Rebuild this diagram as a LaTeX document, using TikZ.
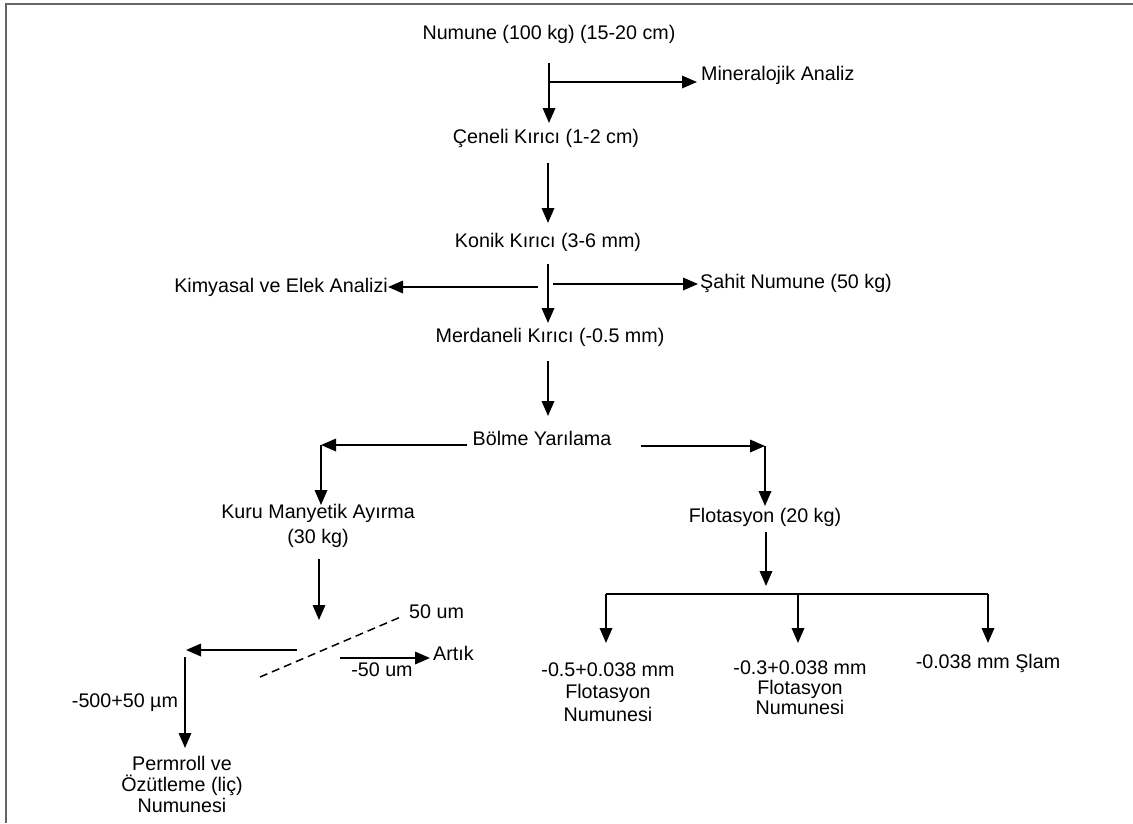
\documentclass[tikz,border=0pt]{standalone}
\usepackage{fontspec}
\setmainfont{Liberation Sans}
\usetikzlibrary{arrows.meta}
\newcommand{\lblfont}{\fontsize{19.7}{22}\selectfont}
\tikzset{
  lbl/.style={inner sep=0pt, font=\lblfont, align=center},
  arr/.style={-{Triangle[length=15pt,width=12.5pt]}, line width=1.8pt},
  ln/.style={line width=1.8pt},
  dsh/.style={line width=1.5pt, dash pattern=on 8pt off 5pt},
  frame/.style={line width=2pt, draw=black!60}
}
\begin{document}
\begin{tikzpicture}[x=1pt,y=-1pt]
\useasboundingbox (0,0) rectangle (1133,823);
\draw[frame] (1133,4) -- (6,4) -- (6,823);

% nodes
\node[lbl] (n0) at (549,34) {Numune (100 kg) (15-20 cm)};
\node[lbl,anchor=west] (mineral) at (701,75) {Mineralojik Analiz};
\node[lbl] (n1) at (546,138) {Çeneli Kırıcı (1-2 cm)};
\node[lbl] (n2) at (548,242) {Konik Kırıcı (3-6 mm)};
\node[lbl,anchor=east] (kim) at (388,287) {Kimyasal ve Elek Analizi};
\node[lbl,anchor=west] (sahit) at (700,283) {Şahit Numune (50 kg)};
\node[lbl] (n3) at (550,337) {Merdaneli Kırıcı (-0.5 mm)};
\node[lbl] (bol) at (542,438) {Bölme Yarılama};
\node[lbl,font=\fontsize{19.7}{25}\selectfont] (kuru) at (318,526) {Kuru Manyetik Ayırma\\(30 kg)};
\node[lbl] (flot) at (765,517) {Flotasyon (20 kg)};
\node[lbl,anchor=west] (fifty) at (409,612) {50 um};
\node[lbl,anchor=west] (artik) at (433,653) {Artık};
\node[lbl] (m50) at (382,670) {-50 um};
\node[lbl] (m500) at (125,703) {-500+50 µm};
\node[lbl,font=\fontsize{19.7}{21}\selectfont] (perm) at (182,784) {Permroll ve\\Özütleme (liç)\\Numunesi};
\node[lbl,font=\fontsize{19.7}{22.5}\selectfont] (c1) at (608,692) {-0.5+0.038 mm\\Flotasyon\\Numunesi};
\node[lbl,font=\fontsize{19.7}{20}\selectfont] (c2) at (800,688) {-0.3+0.038 mm\\Flotasyon\\Numunesi};
\node[lbl] (c3) at (988,663) {-0.038 mm Şlam};

% junction coordinates
\coordinate (a0s) at (549,63);
\coordinate (a0e) at (549,123);
\coordinate (a0b) at (549,82);
\coordinate (a0m) at (697,82);
\coordinate (a1s) at (548,163);
\coordinate (a1e) at (548,223);
\coordinate (a2s) at (548,264);
\coordinate (a2e) at (548,323);
\coordinate (klS) at (538,287);
\coordinate (klE) at (388,287);
\coordinate (krS) at (553,284);
\coordinate (krE) at (698,284);
\coordinate (a3s) at (548,361);
\coordinate (a3e) at (548,416);
\coordinate (blS) at (467,445);
\coordinate (blE) at (321,445);
\coordinate (blD) at (321,505);
\coordinate (brS) at (641,446);
\coordinate (brE) at (765,446);
\coordinate (brD) at (765,506);
\coordinate (kS) at (319,559);
\coordinate (kE) at (319,620);
\coordinate (dA) at (260,677);
\coordinate (dB) at (403,616);
\coordinate (lS) at (297,650);
\coordinate (lE) at (186,650);
\coordinate (lV) at (185,657);
\coordinate (lD) at (185,748);
\coordinate (rS) at (340,658);
\coordinate (rE) at (430,658);
\coordinate (fS) at (766,532);
\coordinate (fE) at (766,586);
\coordinate (bL) at (606,594);
\coordinate (bM) at (798,594);
\coordinate (bR) at (988,594);
\coordinate (bLe) at (606,643);
\coordinate (bMe) at (798,643);
\coordinate (bRe) at (988,643);

% connectors
\draw[arr] (a0s) -- (a0e);
\draw[arr] (a0b) -- (a0m);
\draw[arr] (a1s) -- (a1e);
\draw[arr] (a2s) -- (a2e);
\draw[arr] (klS) -- (klE);
\draw[arr] (krS) -- (krE);
\draw[arr] (a3s) -- (a3e);
\draw[arr] (blS) -- (blE);
\draw[arr] (blE) -- (blD);
\draw[arr] (brS) -- (brE);
\draw[arr] (brE) -- (brD);
\draw[arr] (kS) -- (kE);
\draw[dsh] (dA) -- (dB);
\draw[arr] (lS) -- (lE);
\draw[arr] (lV) -- (lD);
\draw[arr] (rS) -- (rE);
\draw[arr] (fS) -- (fE);
\draw[ln] (bL) -- (bR);
\draw[arr] (bL) -- (bLe);
\draw[arr] (bM) -- (bMe);
\draw[arr] (bR) -- (bRe);
\end{tikzpicture}
\end{document}
